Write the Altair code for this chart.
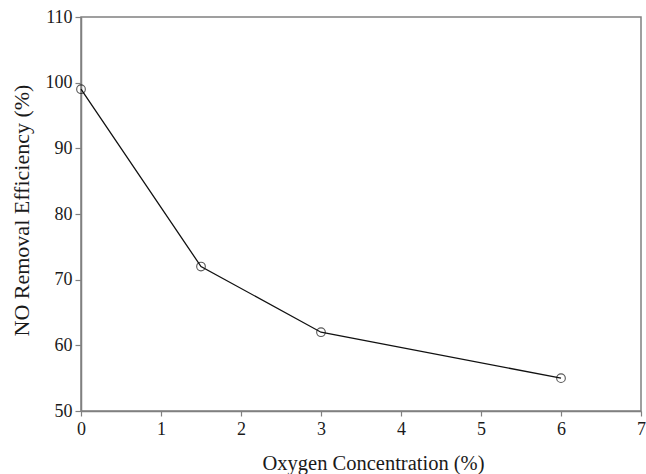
import altair as alt
import pandas as pd

# NO removal efficiency versus oxygen concentration
oxygen = [0, 1.5, 3, 6]
efficiency = [99, 72, 62, 55]

df = pd.DataFrame({"oxygen": oxygen, "efficiency": efficiency})

FONT = "Liberation Serif"
AXIS_GREY = "#808080"

x_enc = alt.X(
    "oxygen:Q",
    scale=alt.Scale(domain=[0, 7], nice=False, zero=False),
    axis=alt.Axis(
        title="Oxygen Concentration (%)",
        values=[0, 1, 2, 3, 4, 5, 6, 7],
        format="d",
        grid=False,
        tickSize=5,
        labelPadding=4,
        titlePadding=15,
        titleX=292,
        titleFontSize=20.5,
        labelFlush=False,
    ),
)
y_enc = alt.Y(
    "efficiency:Q",
    scale=alt.Scale(domain=[50, 110], nice=False, zero=False),
    axis=alt.Axis(
        title="NO Removal Efficiency (%)",
        values=[50, 60, 70, 80, 90, 100, 110],
        grid=False,
        tickSize=6,
        labelPadding=3,
        titlePadding=12,
        titleY=193,
        titleFontSize=22,
        labelFlush=False,
    ),
)

line = alt.Chart(df).mark_line(color="#111111", strokeWidth=1.3).encode(x=x_enc, y=y_enc)
points = alt.Chart(df).mark_point(
    shape="circle", filled=False, color="#111111", size=75, strokeWidth=1.1
).encode(x=x_enc, y=y_enc)

chart = (
    alt.layer(line, points)
    .properties(
        width=560,
        height=394,
        autosize=alt.AutoSizeParams(type="none"),
        padding={"left": 81, "top": 17, "right": 5, "bottom": 63},
        background="white",
    )
    .configure_view(stroke=AXIS_GREY, strokeWidth=1.5)
    .configure_axis(
        domainColor=AXIS_GREY,
        domainWidth=1.5,
        tickColor=AXIS_GREY,
        tickWidth=1.2,
        labelFont=FONT,
        labelFontSize=18,
        labelColor="#1a1a1a",
        titleFont=FONT,
        titleFontWeight="normal",
        titleColor="#1a1a1a",
    )
)

chart.save("out.html", embed_options={"renderer": "svg", "actions": False})
